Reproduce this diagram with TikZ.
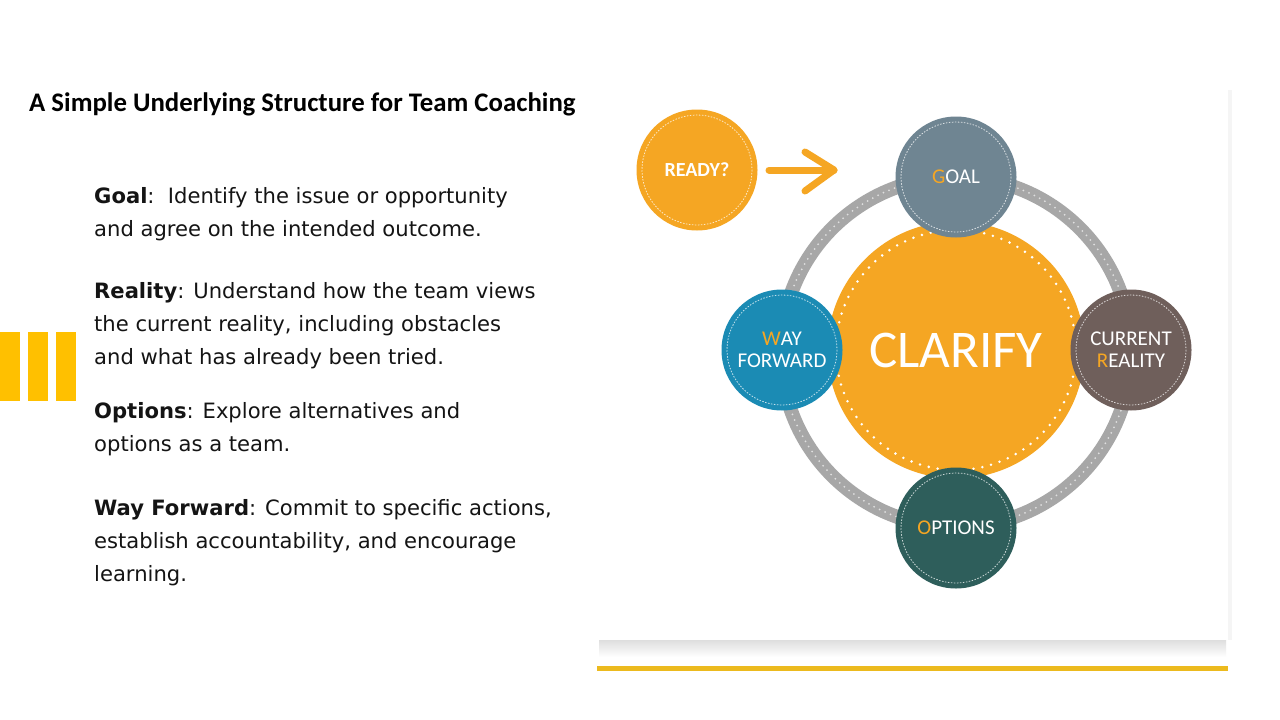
\documentclass[tikz,border=0pt]{standalone}
\usepackage{fontspec}
\setmainfont{Carlito}
\newfontfamily\bodyfont{DejaVu Sans}
\newfontfamily\diagfont{Carlito}
\definecolor{orng}{RGB}{245,166,35}
\definecolor{goalc}{RGB}{111,133,146}
\definecolor{realc}{RGB}{111,95,91}
\definecolor{wayc}{RGB}{27,139,180}
\definecolor{optc}{RGB}{46,94,91}
\definecolor{barc}{RGB}{255,192,0}
\definecolor{linec}{RGB}{236,186,30}
\definecolor{ringc}{RGB}{167,167,167}
\definecolor{txt}{RGB}{20,20,20}
\tikzset{
  smallcirc/.style={circle, minimum size=121pt, inner sep=0pt, text=white,
    font=\diagfont\fontsize{21}{22}\selectfont, align=center},
  bodytext/.style={anchor=north west, inner sep=0pt, align=left, text=txt,
    font=\bodyfont\fontsize{21.1}{33.2}\selectfont},
  innerdash/.style={white, line width=0.8pt, dash pattern=on 1.5pt off 1.5pt, opacity=0.75},
}
\newcommand{\hl}[1]{\textcolor{orng}{#1}}
\begin{document}
\begin{tikzpicture}[x=1pt,y=-1pt]
\useasboundingbox (0,0) rectangle (1280,720);
\fill[white] (0,0) rectangle (1280,720);
% left yellow bars
\fill[barc] (0,332) rectangle (20,401);
\fill[barc] (28,332) rectangle (48,401);
\fill[barc] (56,332) rectangle (76,401);
% title
\node[anchor=west, inner sep=0pt, text=black, font=\bfseries\fontsize{26.8}{26.8}\selectfont] (title) at (29,104) {A Simple Underlying Structure for Team Coaching};
% body text
\node[bodytext] (tgoal) at (94,187) {\textbf{Goal}:\ \ Identify the issue or opportunity\\and agree on the intended outcome.};
\node[bodytext] (treal) at (94,282) {\textbf{Reality}: Understand how the team views\\the current reality, including obstacles\\and what has already been tried.};
\node[bodytext] (topt) at (94,402) {\textbf{Options}: Explore alternatives and\\options as a team.};
\node[bodytext] (tway) at (94,499) {\textbf{Way Forward}: Commit to specific actions,\\establish accountability, and encourage\\learning.};
% card with shadow
\shade[top color=black!13, bottom color=white] (599,640) rectangle (1226,657);
\fill[black!4] (1228,90) rectangle (1232,640);
\fill[white] (597,85) rectangle (1228,640);
\fill[linec] (597,666) rectangle (1228,671);
% ring
\coordinate (ctr) at (956,352);
\draw[ringc, line width=14pt] (ctr) circle[radius=175];
\draw[gray!25, line width=2pt, line cap=round, dash pattern=on 0pt off 6pt] (ctr) circle[radius=175];
% central
\node[circle, fill=orng, minimum size=257pt, inner sep=0pt, text=white,
  font=\diagfont\fontsize{53}{53}\selectfont] (clarify) at (956,350) {CLARIFY};
\draw[white, line width=2.8pt, line cap=round, dash pattern=on 0pt off 9pt] (clarify.center) circle[radius=120];
% small circles
\node[smallcirc, fill=goalc] (goal) at (956,177) {\hl{G}OAL};
\node[smallcirc, fill=realc] (real) at (1131,350) {CURRENT\\\hl{R}EALITY};
\node[smallcirc, fill=wayc] (way) at (782,350) {\hl{W}AY\\FORWARD};
\node[smallcirc, fill=optc] (opt) at (956,528) {\hl{O}PTIONS};
\node[smallcirc, fill=orng, font=\diagfont\bfseries\fontsize{20}{20}\selectfont] (ready) at (697,170) {READY?};
\foreach \n in {goal,real,way,opt,ready}
  \draw[innerdash] (\n.center) circle[radius=55];
% arrow
\coordinate (arrs) at (769,170);
\coordinate (arre) at (834,170);
\draw[orng, line width=7pt, line cap=round, line join=round] (arrs) -- (arre);
\draw[orng, line width=7pt, line cap=round, line join=round] ([shift={(-29,-18)}]arre) -- (arre) -- ([shift={(-29,21)}]arre);
\end{tikzpicture}
\end{document}
